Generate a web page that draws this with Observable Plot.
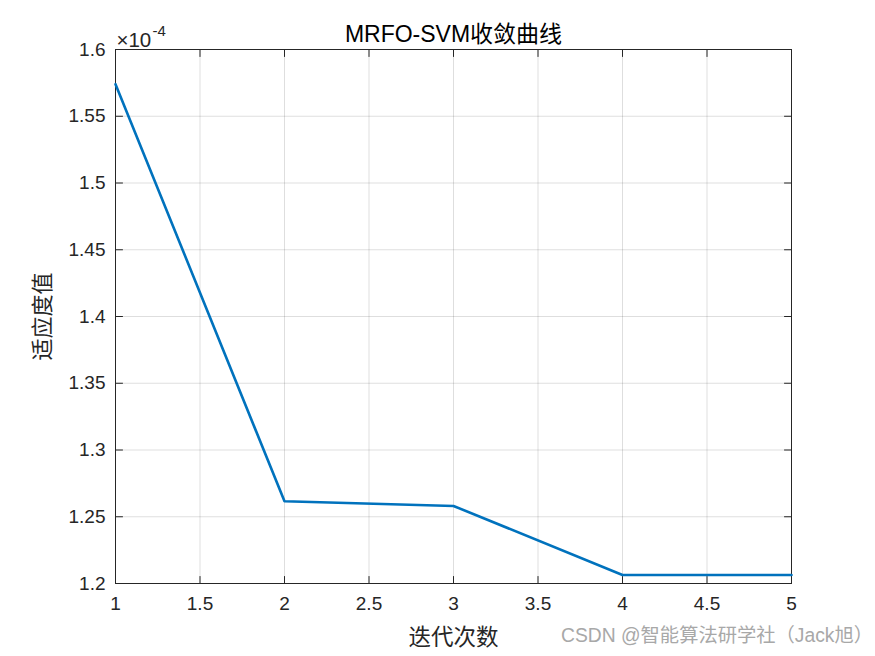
<!DOCTYPE html>
<html>
<head>
<meta charset="utf-8">
<script src="https://cdn.jsdelivr.net/npm/d3@7"></script>
<script src="https://cdn.jsdelivr.net/npm/@observablehq/plot@0.6"></script>
<style>
  html, body { margin: 0; padding: 0; background: #fff; }
  #wrap { position: relative; width: 875px; height: 656px; }
  #wm { position: absolute; left: 561px; top: 624px; font: 19.3px "Liberation Sans", "Noto Sans CJK SC", sans-serif; color: #a8a8a8; white-space: nowrap; line-height: 24px; }
</style>
</head>
<body>
<div id="wrap"><div id="chart"></div><div id="wm">CSDN @智能算法研学社（Jack旭）</div></div>
<script>
const iterations = [1, 2, 3, 4, 5];
const fitness = [1.5740e-4, 1.2616e-4, 1.2581e-4, 1.2064e-4, 1.2064e-4];
const xTicks = [1, 1.5, 2, 2.5, 3, 3.5, 4, 4.5, 5];
const yTicks = [1.2e-4, 1.25e-4, 1.3e-4, 1.35e-4, 1.4e-4, 1.45e-4, 1.5e-4, 1.55e-4, 1.6e-4];
const titleText = "MRFO-SVM收敛曲线";
const xLabel = "迭代次数";
const yLabel = "适应度值";

const data = iterations.map((x, i) => ({x, y: fitness[i]}));
const xMin = 1, xMax = 5, yMin = 1.2e-4, yMax = 1.6e-4;
const tickShape = {draw(context, l) { context.moveTo(0, 0); context.lineTo(0, -l); }};
const axisColor = "#262626";
const font = '"Liberation Sans", Arial, sans-serif';
const mixed = '"Liberation Sans", "Noto Sans CJK SC", sans-serif';
const cjk = '"Noto Sans CJK SC", sans-serif';

const chart = Plot.plot({
  width: 875,
  height: 656,
  marginLeft: 115,
  marginRight: 84,
  marginTop: 49,
  marginBottom: 73,
  style: {fontFamily: font, background: "#fff", overflow: "visible"},
  x: {domain: [xMin, xMax]},
  y: {domain: [yMin, yMax]},
  marks: [
    Plot.gridX(xTicks, {stroke: "#000", strokeOpacity: 0.13, strokeWidth: 1}),
    Plot.gridY(yTicks, {stroke: "#000", strokeOpacity: 0.13, strokeWidth: 1}),
    Plot.axisX(xTicks, {anchor: "bottom", tickSize: 0, tickPadding: 13, fontSize: 19, fill: axisColor, label: null, tickFormat: d => String(d)}),
    Plot.axisY(yTicks, {anchor: "left", tickSize: 0, tickPadding: 10, fontSize: 19, fill: axisColor, label: null, tickFormat: d => String(+(d * 1e4).toFixed(2))}),
    Plot.vector(xTicks, {x: d => d, y: yMin, length: 7, rotate: 0, anchor: "start", shape: tickShape, stroke: axisColor, strokeWidth: 1}),
    Plot.vector(xTicks, {x: d => d, y: yMax, length: 7, rotate: 180, anchor: "start", shape: tickShape, stroke: axisColor, strokeWidth: 1}),
    Plot.vector(yTicks, {x: xMin, y: d => d, length: 7, rotate: 90, anchor: "start", shape: tickShape, stroke: axisColor, strokeWidth: 1}),
    Plot.vector(yTicks, {x: xMax, y: d => d, length: 7, rotate: 270, anchor: "start", shape: tickShape, stroke: axisColor, strokeWidth: 1}),
    Plot.frame({stroke: axisColor, strokeWidth: 1}),
    Plot.line(data, {x: "x", y: "y", stroke: "#0072BD", strokeWidth: 2.6}),
    Plot.text([titleText], {frameAnchor: "top", textAnchor: "middle", lineAnchor: "bottom", dy: -8, fontSize: 23, fill: "#000", fontFamily: mixed}),
    Plot.text(["×10"], {frameAnchor: "top-left", textAnchor: "start", lineAnchor: "bottom", dx: 1, dy: -3, fontSize: 20.5, fill: axisColor}),
    Plot.text(["-4"], {frameAnchor: "top-left", textAnchor: "start", lineAnchor: "bottom", dx: 37, dy: -14, fontSize: 15, fill: axisColor}),
    Plot.text([xLabel], {frameAnchor: "bottom", textAnchor: "middle", lineAnchor: "middle", dy: 54, fontSize: 22.5, fill: axisColor, fontFamily: cjk}),
    Plot.text([yLabel], {frameAnchor: "left", textAnchor: "middle", lineAnchor: "middle", rotate: -90, dx: -73, fontSize: 22, fill: axisColor, fontFamily: cjk})
  ]
});
document.getElementById("chart").appendChild(chart);
</script>
</body>
</html>
